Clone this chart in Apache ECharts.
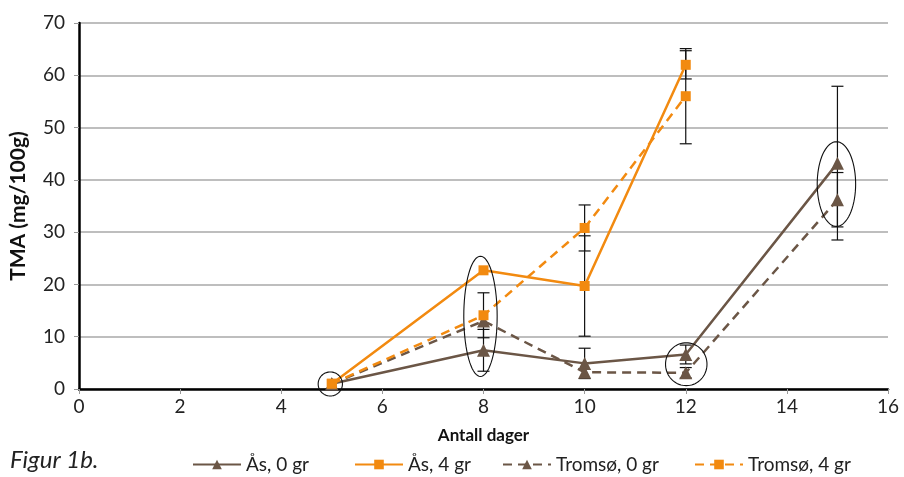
<!DOCTYPE html>
<html>
<head>
<meta charset="utf-8">
<script src="https://cdn.jsdelivr.net/npm/echarts@6/dist/echarts.min.js"></script>
<style>
html,body{margin:0;padding:0;background:#fff;}
#chart{width:904px;height:477px;}
</style>
</head>
<body>
<div id="chart"></div>
<script>
// ---- data ----
const xDays = [5, 8, 10, 12, 15];
const asZero = [1.0, 7.4, 4.9, 6.6, 43.2];
const asFour = [1.0, 22.7, 19.7, 62.0, null];
const tromsoZero = [1.0, 13.0, 3.2, 3.1, 36.2];
const tromsoFour = [1.0, 14.1, 30.8, 56.0, null];
// error (+/-) per point; null = not shown
const asZeroErr = [null, 4.0, 2.9, 1.8, 14.7];
const asFourErr = [null, null, 9.6, 2.7, null];
const tromsoZeroErr = [null, null, null, 1.0, 5.2];
const tromsoFourErr = [null, 4.3, 4.4, 9.1, null];
const seriesNames = ['Ås, 0 gr', 'Ås, 4 gr', 'Tromsø, 0 gr', 'Tromsø, 4 gr'];
const xTicks = [0, 2, 4, 6, 8, 10, 12, 14, 16];
const yTicks = [0, 10, 20, 30, 40, 50, 60, 70];
// annotation ellipses: [centerX, centerY, radiusX, radiusY] in data units
const ellipses = [
  [4.97, 0.96, 0.24, 2.3],
  [7.94, 13.9, 0.33, 11.5],
  [12.01, 4.74, 0.41, 4.1],
  [14.98, 39.2, 0.38, 8.1]
];

const BROWN = '#6b5646';
const ORANGE = '#f28a10';
const FONT = 'Lato';

function pairs(vals) {
  return xDays.map((x, i) => [x, vals[i]]).filter(p => p[1] !== null);
}
function errData(vals, errs) {
  const out = [];
  xDays.forEach((x, i) => {
    if (vals[i] !== null && errs[i] !== null) out.push([x, vals[i] - errs[i], vals[i] + errs[i]]);
  });
  return out;
}
const allErr = [].concat(
  errData(asZero, asZeroErr), errData(asFour, asFourErr),
  errData(tromsoZero, tromsoZeroErr), errData(tromsoFour, tromsoFourErr)
);

const chart = echarts.init(document.getElementById('chart'), null, {renderer: 'canvas'});

function lineSeries(name, vals, color, dashed, symbol, size) {
  return {
    name: name, type: 'line', data: pairs(vals), z: 3,
    symbol: symbol, symbolSize: size, showSymbol: true,
    itemStyle: {color: color},
    lineStyle: {color: color, width: 2.5, type: dashed ? [9, 6] : 'solid'},
    emphasis: {disabled: true}, animation: false
  };
}

const legendPos = [187, 349, 497, 689];

const option = {
  animation: false,
  grid: {left: 77, right: 16, top: 23, bottom: 88, containLabel: false},
  xAxis: {
    type: 'value', min: 0, max: 16, interval: 2,
    name: 'Antall dager', nameLocation: 'middle', nameGap: 38,
    nameTextStyle: {fontFamily: FONT, fontWeight: 'bold', fontSize: 17, color: '#111'},
    axisLine: {show: true, onZero: false, lineStyle: {color: '#000', width: 2.5}},
    axisTick: {show: true, length: 5, lineStyle: {color: '#999', width: 1}},
    axisLabel: {fontFamily: FONT, fontSize: 19, color: '#222', margin: 8},
    splitLine: {show: false}
  },
  yAxis: {
    type: 'value', min: 0, max: 70, interval: 10,
    name: 'TMA (mg/100g)', nameLocation: 'middle', nameGap: 50, nameRotate: 90,
    nameTextStyle: {fontFamily: FONT, fontWeight: 'bold', fontSize: 21, color: '#111'},
    axisLine: {show: true, lineStyle: {color: '#000', width: 2.5}},
    axisTick: {show: true, length: 5, lineStyle: {color: '#999', width: 1}},
    axisLabel: {fontFamily: FONT, fontSize: 19, color: '#222', margin: 14},
    splitLine: {show: true, lineStyle: {color: '#a8a8a8', width: 1.5}}
  },
  legend: seriesNames.map((n, i) => ({
    data: [n], left: legendPos[i], top: 450, itemWidth: 48, itemHeight: 12, itemGap: 5,
    textStyle: {fontFamily: FONT, fontSize: 19, color: '#222'},
    selectedMode: false
  })),
  graphic: [{
    type: 'text', left: 10, top: 448,
    style: {text: 'Figur 1b.', fontFamily: FONT, fontStyle: 'italic', fontSize: 24, fill: '#222'}
  }],
  series: [
    {
      name: 'errors', type: 'custom', data: allErr, z: 2, silent: true,
      renderItem: function (params, api) {
        const x = api.value(0);
        const lo = api.coord([x, api.value(1)]);
        const hi = api.coord([x, api.value(2)]);
        const w = 6;
        const st = {stroke: '#111', lineWidth: 1.2};
        return {type: 'group', children: [
          {type: 'line', shape: {x1: lo[0], y1: lo[1], x2: hi[0], y2: hi[1]}, style: st},
          {type: 'line', shape: {x1: hi[0] - w, y1: hi[1], x2: hi[0] + w, y2: hi[1]}, style: st},
          {type: 'line', shape: {x1: lo[0] - w, y1: lo[1], x2: lo[0] + w, y2: lo[1]}, style: st}
        ]};
      }
    },
    lineSeries(seriesNames[0], asZero, BROWN, false, 'triangle', 13),
    lineSeries(seriesNames[1], asFour, ORANGE, false, 'rect', 10),
    lineSeries(seriesNames[2], tromsoZero, BROWN, true, 'triangle', 13),
    lineSeries(seriesNames[3], tromsoFour, ORANGE, true, 'rect', 10),
    {
      name: 'rings', type: 'custom', data: ellipses, z: 5, silent: true,
      renderItem: function (params, api) {
        const c = api.coord([api.value(0), api.value(1)]);
        const s = api.size([api.value(2), api.value(3)]);
        const pts = [];
        for (let k = 0; k <= 72; k++) {
          const a = k / 72 * Math.PI * 2;
          pts.push([c[0] + s[0] * Math.cos(a), c[1] + s[1] * Math.sin(a)]);
        }
        return {type: 'polyline', shape: {points: pts}, style: {stroke: '#111', lineWidth: 1.1, fill: null}};
      }
    }
  ]
};
chart.setOption(option);
</script>
</body>
</html>
